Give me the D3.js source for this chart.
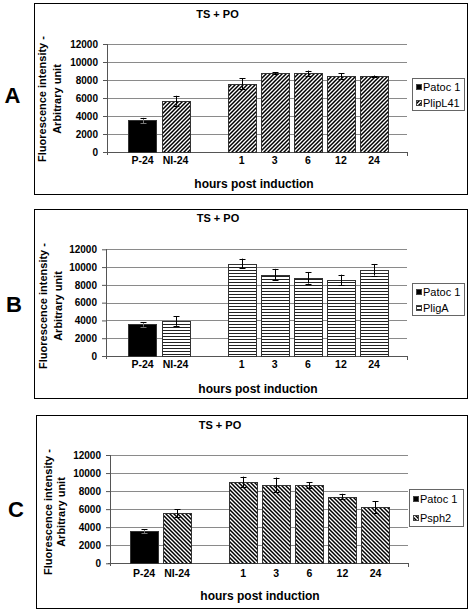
<!DOCTYPE html>
<html><head><meta charset="utf-8">
<script src="https://cdn.jsdelivr.net/npm/d3@7"></script>
<style>
body{margin:0;background:#fff}
svg{display:block}
text{font-family:"Liberation Sans",Arial,sans-serif;fill:#000}
</style>
</head><body>
<svg id="c" width="470" height="611"></svg>
<script>
// ---- data ----
const categories = ["P-24","NI-24","","1","3","6","12","24"];
const yTicks = [0,2000,4000,6000,8000,10000,12000];
const controlName = "Patoc 1";
const constructNames = ["PlipL41","PligA","Psph2"];
const valuesA = [3500,5700,null,7600,8750,8750,8450,8400];
const errorsA = [300,550,null,600,100,300,300,100];
const valuesB = [3550,3950,null,10400,9150,8800,8550,9700];
const errorsB = [250,550,null,550,650,650,600,650];
const valuesC = [3550,5550,null,9000,8700,8650,7400,6250];
const errorsC = [200,450,null,600,800,350,300,650];
const panelLetters = ["A","B","C"];
const chartTitle = "TS + PO";
const xTitle = "hours post induction";
const yTitle = ["Fluorescence intensity -","Arbitrary unit"];

// ---- layout ----
const layouts = [
  {values:valuesA, errors:errorsA, pattern:"up",
   box:[34,3,467,194], titleX:217.5, titleY:18, letterX:12.5, letterY:103,
   plotX:[107,407], plotY:[44,152], band:[126,390.5], xLabelY:164, xTitleX:254, xTitleY:188,
   legend:[412,78,52,32], yTitleX:[42.5,57], yTitleY:99},
  {values:valuesB, errors:errorsB, pattern:"h",
   box:[34,209,467,398], titleX:218, titleY:222, letterX:14, letterY:312,
   plotX:[106,407], plotY:[249.3,356], band:[126,390.5], xLabelY:368, xTitleX:258, xTitleY:393,
   legend:[412,283,52,32], yTitleX:[43,58], yTitleY:306},
  {values:valuesC, errors:errorsC, pattern:"down",
   box:[36,415,467,608], titleX:220, titleY:428.5, letterX:16, letterY:517,
   plotX:[110,408], plotY:[455,563.3], band:[127.5,392], xLabelY:577, xTitleX:260, xTitleY:600,
   legend:[409,489,54,37], yTitleX:[48,61], yTitleY:512}
];

const svg = d3.select("#c");
const defs = svg.append("defs");
function addPattern(id, kind){
  const w = 4, h = kind === "h" ? 3 : 4;
  const p = defs.append("pattern").attr("id",id).attr("patternUnits","userSpaceOnUse")
    .attr("width",w).attr("height",h);
  p.append("rect").attr("width",w).attr("height",h).attr("fill","#fff");
  if(kind==="up"){
    p.append("path").attr("d","M-1,1L1,-1M0,4L4,0M3,5L5,3").attr("stroke","#000").attr("stroke-width",1.5);
  } else if(kind==="down"){
    p.append("path").attr("d","M-1,3L1,5M0,0L4,4M3,-1L5,1").attr("stroke","#000").attr("stroke-width",1.5);
  } else {
    p.append("rect").attr("x",0).attr("y",0).attr("width",w).attr("height",1).attr("fill","#222");
  }
}

layouts.forEach((L,i)=>{
  const pid = "pat"+i;
  addPattern(pid, L.pattern);
  const g = svg.append("g");
  // outer box
  g.append("rect").attr("x",L.box[0]+0.5).attr("y",L.box[1]+0.5)
    .attr("width",L.box[2]-L.box[0]).attr("height",L.box[3]-L.box[1])
    .attr("fill","none").attr("stroke","#000").attr("stroke-width",1);
  // panel letter
  g.append("text").attr("x",L.letterX).attr("y",L.letterY).attr("text-anchor","middle")
    .style("font-size","22px").style("font-weight","bold").text(panelLetters[i]);
  // title
  g.append("text").attr("x",L.titleX).attr("y",L.titleY).attr("text-anchor","middle")
    .style("font-size","11px").style("font-weight","bold").text(chartTitle);

  const x = d3.scaleBand().domain(categories).range(L.band).paddingInner(0.15).paddingOuter(0.075);
  const y = d3.scaleLinear().domain([0,12000]).range([L.plotY[1], L.plotY[0]]);

  // gridlines
  g.selectAll("line.grid").data(yTicks.filter(t=>t>0)).join("line").attr("class","grid")
    .attr("x1",L.plotX[0]).attr("x2",L.plotX[1])
    .attr("y1",d=>Math.round(y(d))+0.5).attr("y2",d=>Math.round(y(d))+0.5)
    .attr("stroke","#8a8a8a").attr("stroke-width",1);

  // y axis
  const ya = g.append("g").attr("transform",`translate(${L.plotX[0]},0)`)
    .call(d3.axisLeft(y).tickValues(yTicks).tickSize(4).tickPadding(5).tickFormat(d3.format("d")));
  ya.select(".domain").remove();
  ya.selectAll(".tick line").attr("stroke","#555");
  ya.selectAll(".tick text").style("font-size","10px").style("font-weight","bold").style("font-family",'"Liberation Sans",Arial,sans-serif');
  g.append("line").attr("x1",L.plotX[0]+0.5).attr("x2",L.plotX[0]+0.5)
    .attr("y1",Math.round(y(12000))).attr("y2",Math.round(y(0))+3).attr("stroke","#555");
  // x axis line
  g.append("line").attr("x1",L.plotX[0]-2).attr("x2",L.plotX[1])
    .attr("y1",Math.round(y(0))+0.5).attr("y2",Math.round(y(0))+0.5).attr("stroke","#555");
  g.append("line").attr("x1",L.plotX[1]+0.5).attr("x2",L.plotX[1]+0.5)
    .attr("y1",Math.round(y(0))).attr("y2",Math.round(y(0))+4).attr("stroke","#555");

  // x labels
  const xa = g.append("g").attr("transform",`translate(0,${L.xLabelY})`)
    .call(d3.axisBottom(x).tickSize(0).tickPadding(0));
  xa.select(".domain").remove();
  xa.selectAll(".tick text").attr("dy",0).attr("y",0).style("font-size","10.5px").style("font-weight","bold")
    .style("font-family",'"Liberation Sans",Arial,sans-serif');

  // bars
  const data = categories.map((c,k)=>({c, v:L.values[k], e:L.errors[k], k})).filter(d=>d.v!=null);
  g.selectAll("rect.bar").data(data).join("rect").attr("class","bar")
    .attr("x",d=>Math.round(x(d.c))+0.5).attr("width",Math.round(x.bandwidth()))
    .attr("y",d=>Math.round(y(d.v))+0.5).attr("height",d=>Math.round(y(0))-Math.round(y(d.v)))
    .attr("fill",d=>d.k===0?"#000":`url(#${pid})`).attr("stroke","#333").attr("stroke-width",1);

  // error bars
  const eb = g.selectAll("g.err").data(data).join("g").attr("class","err");
  const cx = d=>Math.round(x(d.c)+x.bandwidth()/2)+0.5;
  eb.append("line").attr("x1",cx).attr("x2",cx).attr("y1",d=>y(d.v+d.e)).attr("y2",d=>y(d.v-d.e))
    .attr("stroke",d=>d.k===0?"#777":"#000");
  eb.append("line").attr("x1",d=>cx(d)-3).attr("x2",d=>cx(d)+3).attr("y1",d=>Math.round(y(d.v+d.e))+0.5).attr("y2",d=>Math.round(y(d.v+d.e))+0.5).attr("stroke","#000");
  eb.append("line").attr("x1",d=>cx(d)-3).attr("x2",d=>cx(d)+3).attr("y1",d=>Math.round(y(d.v-d.e))+0.5).attr("y2",d=>Math.round(y(d.v-d.e))+0.5).attr("stroke",d=>d.k===0?"#777":"#000");

  // axis titles
  g.append("text").attr("x",L.xTitleX).attr("y",L.xTitleY).attr("text-anchor","middle")
    .style("font-size","12px").style("font-weight","bold").text(xTitle);
  yTitle.forEach((t,j)=>{
    g.append("text").attr("transform",`translate(${L.yTitleX[j]},${L.yTitleY}) rotate(-90)`)
      .attr("text-anchor","middle").attr("dy","0.35em")
      .style("font-size","11px").style("font-weight","bold").text(t);
  });

  // legend
  const [lx,ly,lw,lh] = L.legend;
  g.append("rect").attr("x",lx+0.5).attr("y",ly+0.5).attr("width",lw).attr("height",lh)
    .attr("fill","#fff").attr("stroke","#666");
  const entries = [{name:controlName, fill:"#000"},{name:constructNames[i], fill:`url(#${pid})`}];
  entries.forEach((en,j)=>{
    const cy = ly + lh*(j===0?0.28:0.78);
    g.append("rect").attr("x",lx+4.5).attr("y",Math.round(cy-3)+0.5).attr("width",5).attr("height",5)
      .attr("fill",en.fill).attr("stroke","#444");
    g.append("text").attr("x",lx+11).attr("y",cy).attr("dy","0.35em")
      .style("font-size","11px").text(en.name);
  });
});
</script>
</body></html>
